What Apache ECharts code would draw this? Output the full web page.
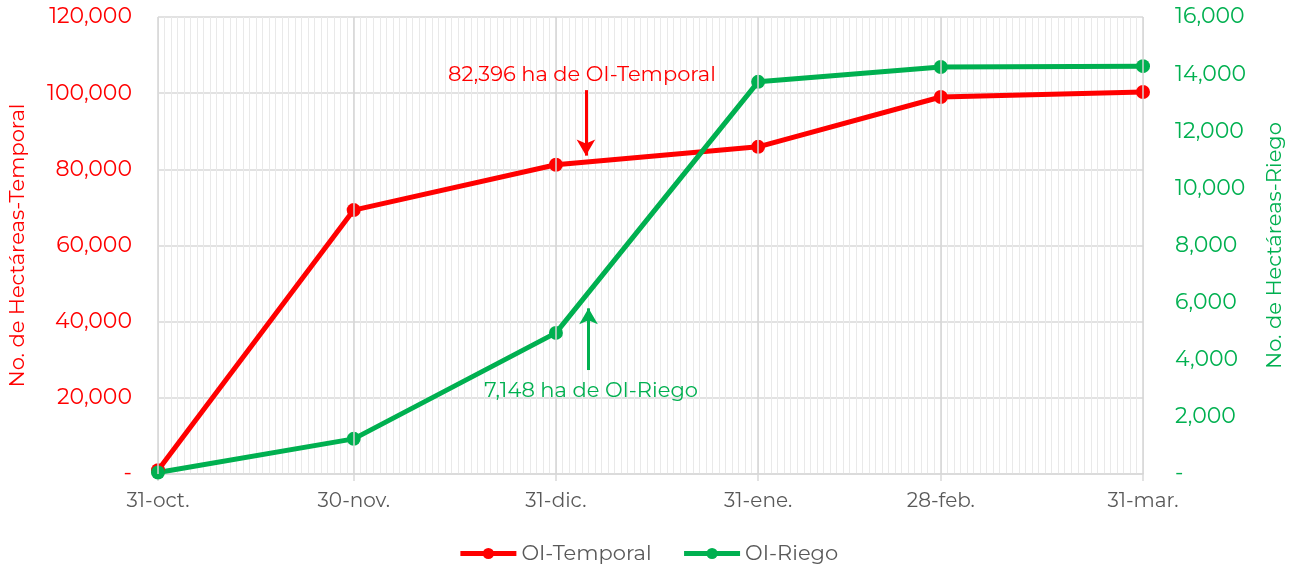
<!DOCTYPE html>
<html><head><meta charset="utf-8">
<script src="https://cdn.jsdelivr.net/npm/echarts@6/dist/echarts.min.js"></script>
<style>html,body{margin:0;padding:0;background:#fff}#c{width:1296px;height:564px}</style>
</head><body><div id="c"></div>
<script>
const dates = ['2022-10-31','2022-11-30','2022-12-31','2023-01-31','2023-02-28','2023-03-31'];
const categories = ['31-oct.','30-nov.','31-dic.','31-ene.','28-feb.','31-mar.'];
const temporal = [1000, 69300, 81200, 85900, 99000, 100300];
const riego = [50, 1230, 4940, 13730, 14250, 14280];
const leftTicks = [0, 20000, 40000, 60000, 80000, 100000, 120000];
const rightTicks = [0, 2000, 4000, 6000, 8000, 10000, 12000, 14000, 16000];
const noteTemporal = '82,396 ha de OI-Temporal';
const noteRiego = '7,148 ha de OI-Riego';

const DAY = 86400000;
const t0 = Date.parse(dates[0]);
const days = dates.map(d => Math.round((Date.parse(d) - t0) / DAY));
const maxDay = days[days.length - 1];
const labelOf = {};
days.forEach((d, i) => labelOf[d] = categories[i]);
const fmt = v => v === 0 ? '-' : v.toLocaleString('en-US');
const FONT = 'Montserrat, "Open Sans", sans-serif';

const chart = echarts.init(document.getElementById('c'));
chart.setOption({
  animation: false,
  textStyle: { fontFamily: FONT },
  grid: { left: 158, right: 153, top: 17, bottom: 90, containLabel: false, outerBoundsMode: 'none' },
  legend: {
    top: 538, left: 'center', itemWidth: 56, itemHeight: 14, itemGap: 30,
    lineStyle: { width: 5 },
    textStyle: { color: '#595959', fontSize: 21, fontFamily: FONT },
    data: ['OI-Temporal', 'OI-Riego']
  },
  xAxis: [{
    type: 'value', min: 0, max: maxDay, interval: 1,
    axisLine: { show: true, lineStyle: { color: '#d9d9d9', width: 1.5 } },
    axisTick: { show: false },
    axisLabel: { show: false },
    splitLine: { show: true, lineStyle: { color: '#e9e9e9', width: 1 } }
  }, {
    type: 'value', min: 0, max: maxDay, position: 'bottom',
    axisLine: { show: false },
    axisTick: { show: true, customValues: days, length: 7, lineStyle: { color: '#d9d9d9', width: 1.5 } },
    axisLabel: { show: true, customValues: days, formatter: v => labelOf[v] || '', color: '#595959', fontSize: 20, margin: 17 },
    splitLine: { show: false }
  }],
  yAxis: [{
    type: 'value', min: 0, max: 120000, interval: 20000,
    name: 'No. de Hectáreas-Temporal', nameLocation: 'middle', nameGap: 130,
    nameTextStyle: { color: '#ff0000', fontSize: 21 },
    axisLine: { show: false }, axisTick: { show: false },
    axisLabel: { color: '#ff0000', fontSize: 22, margin: 26, formatter: fmt },
    splitLine: { show: true, lineStyle: { color: '#d9d9d9', width: 1.5 } }
  }, {
    type: 'value', min: 0, max: 16000, interval: 2000, position: 'right',
    name: 'No. de Hectáreas-Riego', nameLocation: 'middle', nameGap: 121, nameRotate: 90,
    nameTextStyle: { color: '#00b050', fontSize: 21 },
    axisLine: { show: false }, axisTick: { show: false },
    axisLabel: { color: '#00b050', fontSize: 22, margin: 32, formatter: fmt },
    splitLine: { show: false }
  }],
  series: [{
    name: 'majors', type: 'line', data: [], z: 1, silent: true,
    markLine: {
      silent: true, symbol: ['none', 'none'], label: { show: false },
      lineStyle: { color: '#d4d4d4', width: 1.5, type: 'solid' },
      data: days.map(d => ({ xAxis: d }))
    }
  }, {
    name: 'OI-Temporal', type: 'line', xAxisIndex: 0, yAxisIndex: 0, z: 3,
    data: days.map((d, i) => [d, temporal[i]]),
    color: '#ff0000', lineStyle: { width: 5, color: '#ff0000' },
    itemStyle: { color: '#ff0000', borderWidth: 0 },
    symbol: 'circle', symbolSize: 14,
    markLine: {
      silent: true, symbol: ['none', 'arrow'], symbolSize: [14, 16],
      label: { show: false },
      lineStyle: { color: '#ff0000', width: 3, type: 'solid' },
      data: [[{ coord: [65.6, 100800] }, { coord: [65.6, 83600] }]]
    },
    markPoint: {
      symbol: 'circle', symbolSize: 0,
      label: { show: true, position: 'inside', color: '#ff0000', fontSize: 21, formatter: noteTemporal },
      data: [{ coord: [65.0, 104800] }]
    }
  }, {
    name: 'OI-Riego', type: 'line', xAxisIndex: 0, yAxisIndex: 1, z: 3,
    data: days.map((d, i) => [d, riego[i]]),
    color: '#00b050', lineStyle: { width: 5, color: '#00b050' },
    itemStyle: { color: '#00b050', borderWidth: 0 },
    symbol: 'circle', symbolSize: 14,
    markLine: {
      silent: true, symbol: ['none', 'arrow'], symbolSize: [14, 16],
      label: { show: false },
      lineStyle: { color: '#00b050', width: 3, type: 'solid' },
      data: [[{ coord: [66.0, 3640] }, { coord: [66.0, 5800] }]]
    },
    markPoint: {
      symbol: 'circle', symbolSize: 0,
      label: { show: true, position: 'inside', color: '#00b050', fontSize: 21, formatter: noteRiego },
      data: [{ coord: [66.4, 2905] }]
    }
  }]
});
</script></body></html>
